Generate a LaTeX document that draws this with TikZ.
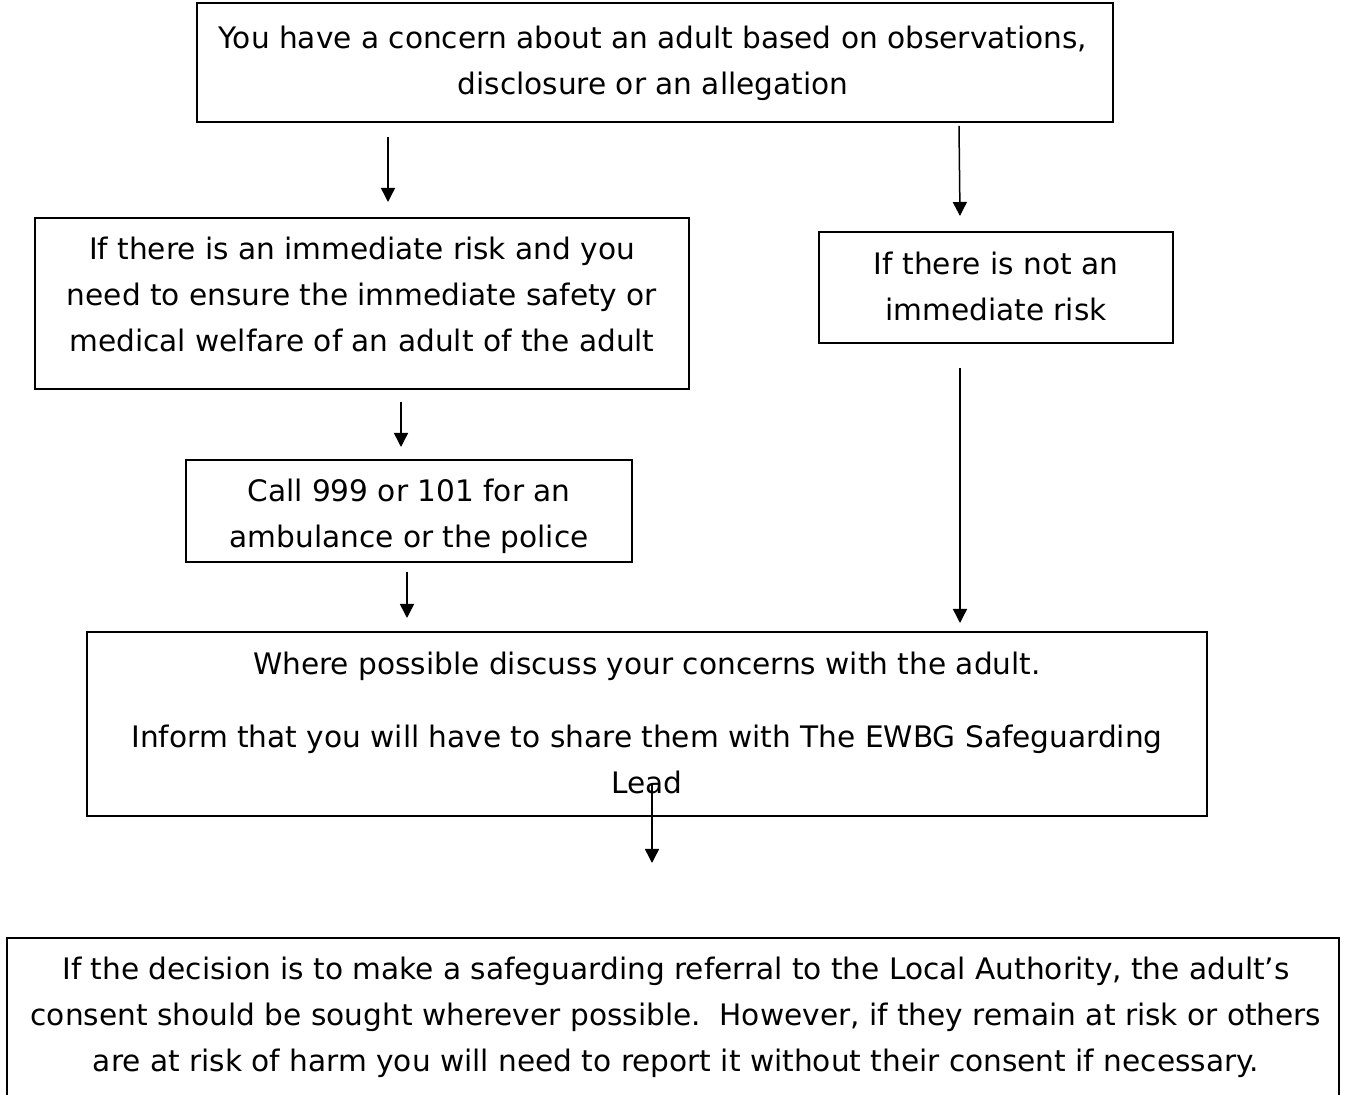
\documentclass[tikz,border=0pt]{standalone}
\usepackage{fontspec}
\setmainfont{DejaVu Sans}
\usetikzlibrary{arrows.meta}

\tikzset{every picture/.style={line width=0.75pt}}
\tikzset{
  boxline/.style={line width=0.8pt},
  plaintext/.style={align=center, inner sep=0pt, font=\fontsize{14.8}{23}\selectfont},
  flowarrow/.style={-{Triangle[width=7pt,length=7pt]}, line width=0.75pt}
}

\begin{document}
\begin{tikzpicture}[x=0.5pt,y=0.5pt,yscale=-1,xscale=1]
\useasboundingbox (0,0) rectangle (1345,1095);
\clip (0,0) rectangle (1345,1095);

%Shape: Rectangle
\draw [boxline] (197,3) rectangle (1113,122);
%Shape: Rectangle
\draw [boxline] (35,218) rectangle (689,389);
%Shape: Rectangle
\draw [boxline] (819,232) rectangle (1173,343);
%Shape: Rectangle
\draw [boxline] (186,460) rectangle (632,562);
%Shape: Rectangle
\draw [boxline] (87,632) rectangle (1207,816);
%Shape: Rectangle, open at the foot
\draw [boxline] (7,1110) -- (7,938) -- (1339,938) -- (1339,1110);

% Text Node
\node [plaintext] (concern) at (653,63)
  {You have a concern about an adult based on observations,\\ disclosure or an allegation};
% Text Node
\node [plaintext] (immediate) at (362,294.5)
  {If there is an immediate risk and you\\ need to ensure the immediate safety or\\ medical welfare of an adult of the adult};
% Text Node
\node [plaintext] (notimmediate) at (996,286)
  {If there is not an\\ immediate risk};
% Text Node
\node [plaintext] (call) at (409,516)
  {Call 999 or 101 for an\\ ambulance or the police};
% Text Node
\node [plaintext] (discuss) at (647,722.5)
  {Where possible discuss your concerns with the adult.\\[13.5pt] Inform that you will have to share them with The EWBG Safeguarding\\ Lead};
% Text Node
\node [plaintext] (referral) at (676,1017.5)
  {If the decision is to make a safeguarding referral to the Local Authority, the adult’s\\ consent should be sought wherever possible.\ \ However, if they remain at risk or others\\ are at risk of harm you will need to report it without their consent if necessary.};

% Arrow ends
\coordinate (a1) at (388,137);  \coordinate (b1) at (388,202);
\coordinate (a2) at (959,126);  \coordinate (b2) at (960,216);
\coordinate (a3) at (401,402);  \coordinate (b3) at (401,447);
\coordinate (a4) at (407,572);  \coordinate (b4) at (407,618);
\coordinate (a5) at (960,368);  \coordinate (b5) at (960,623);
\coordinate (a6) at (652,785);  \coordinate (b6) at (652,863);

%Straight Lines
\draw [flowarrow] (a1) -- (b1);
\draw [flowarrow] (a2) -- (b2);
\draw [flowarrow] (a3) -- (b3);
\draw [flowarrow] (a4) -- (b4);
\draw [flowarrow] (a5) -- (b5);
\draw [flowarrow] (a6) -- (b6);

\end{tikzpicture}
\end{document}
